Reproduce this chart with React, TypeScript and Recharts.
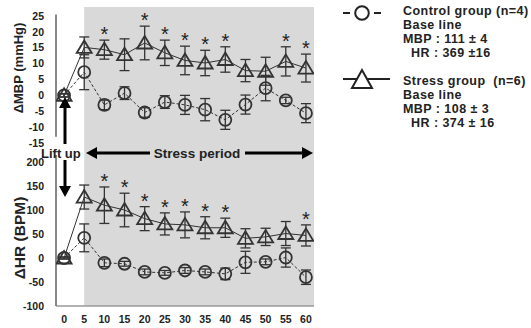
import React from 'react';
import { ComposedChart, Line, XAxis, YAxis, ErrorBar, ReferenceArea, ReferenceLine, Scatter } from 'recharts';

const minutes = [0, 5, 10, 15, 20, 25, 30, 35, 40, 45, 50, 55, 60];
const xTicks = minutes;

const ctrlMbp = [0, 7.3, -3, 0.7, -5.4, -2.1, -3, -4.5, -7.7, -2.9, 2.3, -1.6, -5.6];
const ctrlMbpErr = [0.5, 5.5, 1.5, 2, 1.5, 2, 3, 3.5, 3, 3, 4, 1, 3];
const stressMbp = [0, 15.1, 14.4, 12.8, 16.5, 13.4, 11, 10.2, 11.3, 7.8, 7.6, 10.7, 8.6];
const stressMbpErr = [0.5, 3.3, 3, 5, 5.3, 4, 4.5, 4, 4, 3.5, 4.4, 4.6, 4.4];
const mbpStars = [10, 20, 25, 30, 35, 40, 55, 60];
const mbpTicks = [-15, -10, -5, 0, 5, 10, 15, 20, 25];

const ctrlHr = [0, 42, -10, -12, -29, -31, -26, -29, -33, -9, -8, 1, -40];
const ctrlHrErr = [2, 29, 8, 5, 6, 5, 6, 6, 12, 23, 6, 20, 15];
const stressHr = [0, 127, 110, 100, 82, 71, 69, 63, 63, 41, 44, 51, 47];
const stressHrErr = [2, 25, 38, 35, 25, 23, 27, 23, 20, 20, 18, 25, 22];
const hrStars = [10, 15, 20, 25, 30, 35, 40, 60];
const hrTicks = [-100, -50, 0, 50, 100, 150, 200];

const FONT = '"Liberation Sans", Arial, sans-serif';
const INK = '#222';

const build = (c: number[], ce: number[], s: number[], se: number[]) =>
  minutes.map((t, i) => ({ t, ctrl: c[i], ctrlErr: ce[i], stress: s[i], stressErr: se[i] }));

const starRows = (c: ReturnType<typeof build>, stars: number[]) =>
  c.filter((r) => stars.includes(r.t)).map((r) => ({ t: r.t, top: r.stress + r.stressErr }));

const mbpRows = build(ctrlMbp, ctrlMbpErr, stressMbp, stressMbpErr);
const hrRows = build(ctrlHr, ctrlHrErr, stressHr, stressHrErr);

const CircleDot = (p: any) => (
  <circle key={`c${p.index}`} cx={p.cx} cy={p.cy} r={6} fill="none" stroke="#333" strokeWidth={1.8} />
);

const TriDot = (p: any) => (
  <path
    key={`t${p.index}`}
    d={`M${p.cx},${p.cy - 7} L${p.cx - 7.5},${p.cy + 5.5} L${p.cx + 7.5},${p.cy + 5.5} Z`}
    fill="none"
    stroke="#333"
    strokeWidth={1.8}
  />
);

const Star = (p: any) => (
  <text x={p.cx} y={p.cy + 1} textAnchor="middle" fontSize={20} fontFamily={FONT} fill={INK}>
    *
  </text>
);

const tickStyle = { fontSize: 10.5, fontWeight: 700, fontFamily: FONT, fill: INK };

const series = (rows: any[], stars: any[]) => [
  <Line
    key="ctrl"
    dataKey="ctrl"
    data={rows}
    stroke="#333"
    strokeWidth={1}
    strokeDasharray="3 2"
    dot={CircleDot}
    isAnimationActive={false}
  >
    <ErrorBar dataKey="ctrlErr" width={5} stroke="#333" strokeWidth={1.3} />
  </Line>,
  <Line
    key="stress"
    dataKey="stress"
    data={rows}
    stroke="#333"
    strokeWidth={1}
    dot={TriDot}
    isAnimationActive={false}
  >
    <ErrorBar dataKey="stressErr" width={5} stroke="#333" strokeWidth={1.3} />
  </Line>,
  <Scatter key="stars" data={stars} dataKey="top" shape={Star} isAnimationActive={false} />,
];

const Arrow = ({ x1, y1, x2, y2 }: { x1: number; y1: number; x2: number; y2: number }) => {
  const a = Math.atan2(y2 - y1, x2 - x1);
  const L = 11;
  const W = 6;
  const bx = x2 - L * Math.cos(a);
  const by = y2 - L * Math.sin(a);
  const px = -Math.sin(a) * W;
  const py = Math.cos(a) * W;
  return (
    <g>
      <line x1={x1} y1={y1} x2={bx} y2={by} stroke="#000" strokeWidth={3} />
      <polygon points={`${x2},${y2} ${bx + px},${by + py} ${bx - px},${by - py}`} fill="#000" />
    </g>
  );
};

const Overlay = () => (
  <svg width={531} height={328} style={{ position: 'absolute', left: 0, top: 0, pointerEvents: 'none' }}>
    <g fontFamily={FONT} fontWeight={700} fill={INK}>
      <text x={18} y={68} transform="rotate(-90 18 68)" textAnchor="middle" dominantBaseline="central" fontSize={13}>
        ΔMBP (mmHg)
      </text>
      <text x={19} y={238} transform="rotate(-90 19 238)" textAnchor="middle" dominantBaseline="central" fontSize={15.5}>
        ΔHR (BPM)
      </text>
      <text x={41} y={153} dominantBaseline="central" fontSize={13}>Lift up</text>
      <text x={197} y={153} textAnchor="middle" dominantBaseline="central" fontSize={13.5}>Stress period</text>
    </g>
    <Arrow x1={150} y1={153} x2={86} y2={153} />
    <Arrow x1={245} y1={153} x2={313} y2={153} />
    <Arrow x1={65} y1={144} x2={65} y2={97} />
    <Arrow x1={65} y1={160} x2={65} y2={197} />
    {/* legend */}
    <g stroke="#222" strokeWidth={2} fill="none">
      <line x1={343} y1={13} x2={350} y2={13} />
      <line x1={374} y1={13} x2={381} y2={13} />
      <circle cx={362} cy={13} r={6.8} />
      <line x1={343} y1={79} x2={390} y2={79} />
      <path d="M362,70 L352,88 L372,88 Z" fill="#fff" />
    </g>
    <g fontFamily={FONT} fontWeight={700} fill={INK} fontSize={12.5} letterSpacing={0.45}>
      <text x={403} y={11} dominantBaseline="central">Control group (n=4)</text>
      <text x={403} y={25} dominantBaseline="central">Base line</text>
      <text x={403} y={39} dominantBaseline="central">MBP : 111 ± 4</text>
      <text x={411} y={53} dominantBaseline="central">HR : 369 ±16</text>
      <text x={403} y={81} dominantBaseline="central">{'Stress group\u00a0 (n=6)'}</text>
      <text x={403} y={95} dominantBaseline="central">Base line</text>
      <text x={403} y={109} dominantBaseline="central">MBP : 108 ± 3</text>
      <text x={411} y={123} dominantBaseline="central">HR : 374 ± 16</text>
    </g>
  </svg>
);

export default function App() {
  return (
    <div style={{ position: 'absolute', left: 0, top: 0, width: 531, height: 328, background: '#fff' }}>
      <div style={{ position: 'absolute', left: 0, top: 0 }}>
        <ComposedChart width={531} height={156} margin={{ top: 7, right: 217, bottom: 1, left: 0 }}>
          <ReferenceArea x1={5} x2={62} fill="#d9d9d9" fillOpacity={1} stroke="none" />
          <XAxis type="number" dataKey="t" domain={[-2, 62]} hide allowDataOverflow />
          <YAxis
            type="number"
            domain={[-18.78, 27.83]}
            ticks={mbpTicks}
            allowDataOverflow
            width={56}
            axisLine={false}
            tickLine={false}
            tickMargin={6}
            tick={tickStyle}
            interval={0}
          />
          <ReferenceLine segment={[{ x: -2, y: -13 }, { x: -2, y: 25.5 }]} stroke="#888" strokeWidth={2} ifOverflow="visible" />
          {series(mbpRows, starRows(mbpRows, mbpStars))}
        </ComposedChart>
      </div>
      <div style={{ position: 'absolute', left: 0, top: 155 }}>
        <ComposedChart width={531} height={173} margin={{ top: 0, right: 217, bottom: 0, left: 0 }}>
          <ReferenceArea x1={5} x2={62} fill="#d9d9d9" fillOpacity={1} stroke="none" />
          <XAxis
            type="number"
            dataKey="t"
            domain={[-2, 62]}
            ticks={xTicks}
            interval={0}
            allowDataOverflow
            height={22}
            axisLine={{ stroke: '#999', strokeWidth: 1.5 }}
            tickLine={false}
            tickMargin={4}
            tick={tickStyle}
          />
          <YAxis
            type="number"
            domain={[-100, 214.6]}
            ticks={hrTicks}
            allowDataOverflow
            width={56}
            axisLine={{ stroke: '#888', strokeWidth: 2 }}
            tickLine={false}
            tickMargin={6}
            tick={tickStyle}
            interval={0}
          />
          {series(hrRows, starRows(hrRows, hrStars))}
        </ComposedChart>
      </div>
      <Overlay />
    </div>
  );
}
